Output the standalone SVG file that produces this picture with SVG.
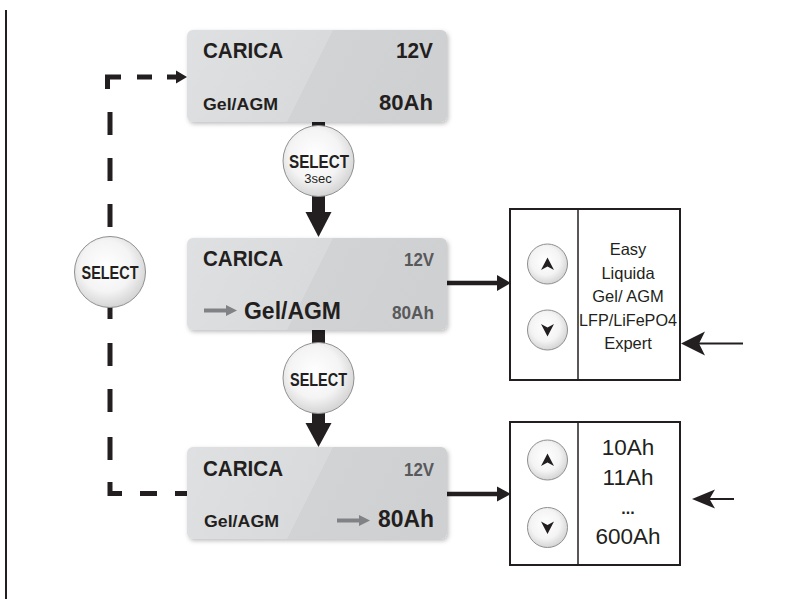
<svg xmlns="http://www.w3.org/2000/svg" width="808" height="599" viewBox="0 0 808 599">
<style>
.t{font-family:"Liberation Sans",Arial,sans-serif;fill:#231f20}
.b{font-weight:bold}
.g{fill:#58595b}
.sel{font-family:"Liberation Sans",Arial,sans-serif;font-weight:bold;fill:#231f20;font-size:18px;text-anchor:middle}
.lst{font-family:"Liberation Sans",Arial,sans-serif;fill:#231f20;text-anchor:middle}
.btn{fill:url(#cg);stroke:#8f8f8f;stroke-width:1}
.lcd{fill:url(#lg);filter:url(#sh)}
.frame{fill:#fff;stroke:#231f20;stroke-width:2}
</style>
<defs>
<linearGradient id="lg" x1="0" y1="0" x2="1" y2="0.1769">
<stop offset="0" stop-color="#dfe0e2"/>
<stop offset="0.5445" stop-color="#d9dadc"/>
<stop offset="0.5445" stop-color="#d2d3d5"/>
<stop offset="1" stop-color="#cfd0d2"/>
</linearGradient>
<radialGradient id="cg" cx="0.45" cy="0.42" r="0.6">
<stop offset="0" stop-color="#ffffff"/>
<stop offset="0.6" stop-color="#f4f4f4"/>
<stop offset="1" stop-color="#d2d2d2"/>
</radialGradient>
<filter id="sh" x="-10%" y="-10%" width="125%" height="130%">
<feDropShadow dx="1.5" dy="2" stdDeviation="2" flood-color="#000" flood-opacity="0.25"/>
</filter>
</defs>

<line x1="6" y1="10" x2="6" y2="599" stroke="#231f20" stroke-width="2"/>

<g id="connectors" fill="#231f20" stroke="none">
  <path d="M121,77 H107.5 V89 M137,77 H152 M167,77 H178 M110,112 V135 M110,158 V181 M110,204 V227 M110,250 V273 M110,296 V319 M110,343 V366 M110,389 V412 M110,437 V460 M110,482 V493.5 H122 M140,493.5 H157 M175,493.5 H190" fill="none" stroke="#231f20" stroke-width="5"/>
  <polygon points="176,70.5 187,77 176,83.5"/>
  <rect x="312" y="120" width="13" height="10"/>
  <rect x="312" y="192" width="13" height="22"/>
  <polygon points="305.5,212 331.5,212 318.5,237"/>
  <rect x="312" y="328" width="13" height="20"/>
  <rect x="312" y="410" width="13" height="15"/>
  <polygon points="305.5,423 331.5,423 318.5,447"/>
  <line x1="447" y1="283" x2="500" y2="283" stroke="#231f20" stroke-width="4.5"/>
  <polygon points="497,275 511,283 497,291"/>
  <line x1="447" y1="494" x2="500" y2="494" stroke="#231f20" stroke-width="4.5"/>
  <polygon points="497,486.5 511,494 497,501.5"/>
  <line x1="695" y1="343.5" x2="743" y2="343.5" stroke="#231f20" stroke-width="2"/>
  <path d="M681,343.5 L705,331.5 L699,343.5 L705,355.5 Z"/>
  <line x1="705" y1="499" x2="734" y2="499" stroke="#231f20" stroke-width="2"/>
  <path d="M692,499 L715,489.5 L709.5,499 L715,508.5 Z"/>
</g>

<g id="lcd1">
  <rect class="lcd" x="187" y="30" width="260" height="92" rx="6"/>
  <text class="t b" x="203" y="58" font-size="22" textLength="80" lengthAdjust="spacingAndGlyphs">CARICA</text>
  <text class="t b" x="433" y="58" font-size="22" text-anchor="end" textLength="37" lengthAdjust="spacingAndGlyphs">12V</text>
  <text class="t b" x="203" y="110" font-size="17" textLength="75" lengthAdjust="spacingAndGlyphs">Gel/AGM</text>
  <text class="t b" x="433" y="110" font-size="22" text-anchor="end" textLength="54" lengthAdjust="spacingAndGlyphs">80Ah</text>
</g>

<g id="select1">
  <circle class="btn" cx="318.5" cy="161" r="35.5"/>
  <text class="sel" x="319" y="168" textLength="60" lengthAdjust="spacingAndGlyphs" font-size="19">SELECT</text>
  <text class="lst" x="318" y="183" font-size="13">3sec</text>
</g>

<g id="lcd2">
  <rect class="lcd" x="187" y="238" width="260" height="92" rx="6"/>
  <text class="t b" x="203" y="266" font-size="22" textLength="80" lengthAdjust="spacingAndGlyphs">CARICA</text>
  <text class="t b g" x="434" y="266" font-size="18" text-anchor="end" textLength="30" lengthAdjust="spacingAndGlyphs">12V</text>
  <line x1="204" y1="310.5" x2="228" y2="310.5" stroke="#808285" stroke-width="4"/>
  <polygon points="226,305 237,310.5 226,316" fill="#808285"/>
  <text class="t b" x="244" y="319" font-size="24" textLength="97" lengthAdjust="spacingAndGlyphs">Gel/AGM</text>
  <text class="t b g" x="434" y="319" font-size="18" text-anchor="end" textLength="42" lengthAdjust="spacingAndGlyphs">80Ah</text>
</g>

<g id="select2">
  <circle class="btn" cx="318.5" cy="378" r="35.5"/>
  <text class="sel" x="318.5" y="386" textLength="57" lengthAdjust="spacingAndGlyphs">SELECT</text>
</g>

<g id="lcd3">
  <rect class="lcd" x="187" y="447" width="260" height="92" rx="6"/>
  <text class="t b" x="203" y="476" font-size="22" textLength="80" lengthAdjust="spacingAndGlyphs">CARICA</text>
  <text class="t b g" x="434" y="476" font-size="18" text-anchor="end" textLength="30" lengthAdjust="spacingAndGlyphs">12V</text>
  <text class="t b" x="204" y="527" font-size="17" fill="#333" textLength="75" lengthAdjust="spacingAndGlyphs">Gel/AGM</text>
  <line x1="337" y1="520.5" x2="361" y2="520.5" stroke="#808285" stroke-width="4"/>
  <polygon points="359,515 370,520.5 359,526" fill="#808285"/>
  <text class="t b" x="434" y="527" font-size="24" text-anchor="end" textLength="56" lengthAdjust="spacingAndGlyphs">80Ah</text>
</g>

<g id="selectLeft">
  <circle class="btn" cx="110" cy="272" r="35.5"/>
  <text class="sel" x="110" y="279" textLength="57" lengthAdjust="spacingAndGlyphs">SELECT</text>
</g>

<g id="typeMenu">
  <rect class="frame" x="510" y="209" width="170" height="171"/>
  <line x1="578" y1="209" x2="578" y2="380" stroke="#231f20" stroke-width="1.5"/>
  <circle class="btn" cx="547.5" cy="264" r="20"/>
  <path d="M547.5,257.5 L554,270 L547.5,266.5 L541,270 Z" fill="#231f20"/>
  <circle class="btn" cx="547.5" cy="330" r="20"/>
  <path d="M547.5,336.5 L554,324 L547.5,327.5 L541,324 Z" fill="#231f20"/>
  <text class="lst" x="628" y="255" font-size="16.5">Easy</text>
  <text class="lst" x="628" y="278.5" font-size="16.5">Liquida</text>
  <text class="lst" x="628" y="302" font-size="16.5">Gel/ AGM</text>
  <text class="lst" x="628" y="325.5" font-size="16.5" textLength="98" lengthAdjust="spacingAndGlyphs">LFP/LiFePO4</text>
  <text class="lst" x="628" y="349" font-size="16.5">Expert</text>
</g>

<g id="capacityMenu">
  <rect class="frame" x="510" y="422" width="170" height="143"/>
  <line x1="578" y1="422" x2="578" y2="565" stroke="#231f20" stroke-width="1.5"/>
  <circle class="btn" cx="547.5" cy="460" r="20"/>
  <path d="M547.5,453.5 L554,466 L547.5,462.5 L541,466 Z" fill="#231f20"/>
  <circle class="btn" cx="547.5" cy="527.5" r="20"/>
  <path d="M547.5,534 L554,521.5 L547.5,525 L541,521.5 Z" fill="#231f20"/>
  <text class="lst" x="628" y="455" font-size="22.5">10Ah</text>
  <text class="lst" x="628" y="485" font-size="22.5">11Ah</text>
  <text class="lst b" x="628" y="514" font-size="16">...</text>
  <text class="lst" x="628" y="544" font-size="22.5">600Ah</text>
</g>
</svg>
